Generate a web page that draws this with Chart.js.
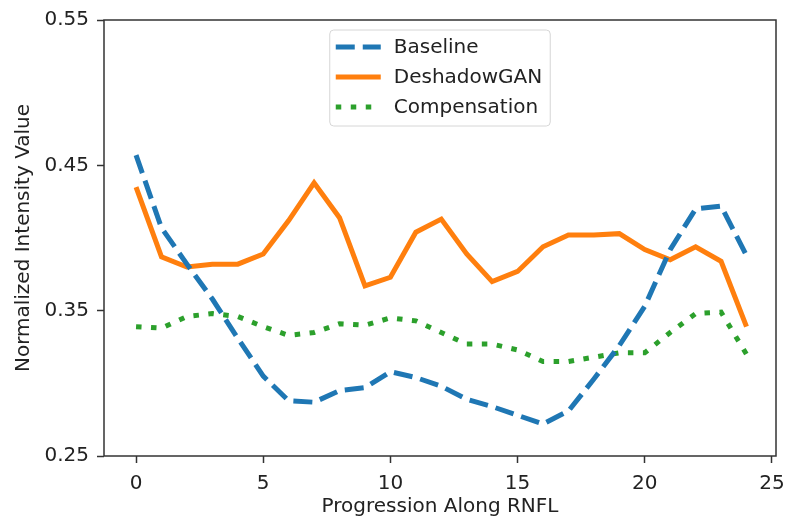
<!DOCTYPE html>
<html>
<head>
<meta charset="utf-8">
<script src="https://cdn.jsdelivr.net/npm/chart.js@4.4.1/dist/chart.umd.min.js"></script>
<style>
  html, body { margin: 0; padding: 0; background: #fff; }
  #wrap { width: 789px; height: 523px; }
</style>
</head>
<body>
<div id="wrap"><canvas id="c" width="789" height="523"></canvas></div>
<script>
// Normalized intensity along the RNFL, three methods
const steps = [0, 1, 2, 3, 4, 5, 6, 7, 8, 9, 10, 11, 12, 13, 14, 15, 16, 17, 18, 19, 20, 21, 22, 23, 24];
const baseline = [0.457, 0.407, 0.382, 0.358, 0.331, 0.305, 0.288, 0.287, 0.295, 0.297, 0.308, 0.304, 0.298,
  0.289, 0.284, 0.278, 0.272, 0.281, 0.303, 0.326, 0.353, 0.392, 0.420, 0.422, 0.388];
const deshadowGAN = [0.435, 0.387, 0.380, 0.382, 0.382, 0.389, 0.412, 0.438, 0.414, 0.367, 0.373, 0.404, 0.413,
  0.389, 0.370, 0.377, 0.394, 0.402, 0.402, 0.403, 0.392, 0.385, 0.394, 0.384, 0.339];
const compensation = [0.339, 0.338, 0.346, 0.348, 0.346, 0.339, 0.333, 0.335, 0.341, 0.340, 0.345, 0.343, 0.335,
  0.327, 0.327, 0.323, 0.315, 0.315, 0.318, 0.321, 0.321, 0.335, 0.348, 0.349, 0.320];
const xTicks = [0, 5, 10, 15, 20, 25];
const yTicks = [0.25, 0.35, 0.45, 0.55];

const FONT = 'DejaVu Sans';
const FS = 20;
const toPoints = vals => vals.map((v, i) => ({ x: steps[i], y: v }));

// matplotlib style full frame around the plot area
const framePlugin = {
  id: 'frame',
  afterDatasetsDraw(chart) {
    const { ctx, chartArea: a } = chart;
    ctx.save();
    ctx.strokeStyle = '#333';
    ctx.lineWidth = 1.5;
    ctx.strokeRect(a.left, a.top, a.right - a.left, a.bottom - a.top);
    ctx.restore();
  }
};

// legend drawn inside the axes, upper center
const insideLegend = {
  id: 'insideLegend',
  afterDraw(chart) {
    const { ctx, chartArea: a } = chart;
    const sets = chart.data.datasets;
    ctx.save();
    ctx.font = FS + 'px ' + FONT;
    const textW = Math.max(...sets.map(d => ctx.measureText(d.label).width));
    const handleW = 45, pad = 6, gap = 13, rowH = 30;
    const w = pad + handleW + gap + textW + 8;
    const h = rowH * sets.length + 6;
    const x0 = (a.left + a.right) / 2 - w / 2;
    const y0 = a.top + 10;
    ctx.beginPath();
    ctx.roundRect(x0, y0, w, h, 4);
    ctx.fillStyle = 'rgba(255,255,255,0.85)';
    ctx.fill();
    ctx.strokeStyle = '#d6d6d6';
    ctx.lineWidth = 1;
    ctx.stroke();
    sets.forEach((d, i) => {
      const cy = y0 + 17 + i * rowH;
      ctx.beginPath();
      ctx.setLineDash(d.borderDash || []);
      ctx.lineWidth = d.borderWidth;
      ctx.strokeStyle = d.borderColor;
      ctx.moveTo(x0 + pad, cy);
      ctx.lineTo(x0 + pad + handleW, cy);
      ctx.stroke();
      ctx.setLineDash([]);
      ctx.fillStyle = '#222';
      ctx.textBaseline = 'middle';
      ctx.fillText(d.label, x0 + pad + handleW + gap, cy + 1);
    });
    ctx.restore();
  }
};

new Chart(document.getElementById('c'), {
  type: 'line',
  data: {
    datasets: [
      { label: 'Baseline', data: toPoints(baseline), borderColor: '#1f77b4', borderWidth: 5, borderDash: [19, 8] },
      { label: 'DeshadowGAN', data: toPoints(deshadowGAN), borderColor: '#ff7f0e', borderWidth: 5 },
      { label: 'Compensation', data: toPoints(compensation), borderColor: '#2ca02c', borderWidth: 5, borderDash: [5.5, 9.5] },
    ]
  },
  options: {
    responsive: false,
    animation: false,
    events: [],
    layout: { padding: { top: 20, right: 13, left: 12, bottom: 0 } },
    elements: { point: { radius: 0 }, line: { tension: 0, fill: false } },
    plugins: { legend: { display: false }, tooltip: { enabled: false } },
    scales: {
      x: {
        type: 'linear', min: -1.26, max: 25.16,
        afterBuildTicks: s => { s.ticks = xTicks.map(v => ({ value: v })); },
        afterFit: s => { s.height = 67; s.paddingLeft = 0; s.paddingRight = 0; },
        grid: { drawOnChartArea: false, drawTicks: true, tickLength: 7, tickColor: '#333', tickWidth: 1.5 },
        border: { display: false },
        ticks: { color: '#222', font: { family: FONT, size: FS }, padding: 9, maxRotation: 0 },
        title: { display: true, text: 'Progression Along RNFL', color: '#222', font: { family: FONT, size: FS }, padding: { top: 0, bottom: 4 } }
      },
      y: {
        type: 'linear', min: 0.25, max: 0.55,
        afterBuildTicks: s => { s.ticks = yTicks.map(v => ({ value: v })); },
        afterFit: s => { s.width = 92; s.paddingTop = 0; s.paddingBottom = 0; },
        grid: { drawOnChartArea: false, drawTicks: true, tickLength: 7, tickColor: '#333', tickWidth: 1.5 },
        border: { display: false },
        ticks: { color: '#222', font: { family: FONT, size: FS }, padding: 8, callback: v => v.toFixed(2) },
        title: { display: true, text: 'Normalized Intensity Value', color: '#222', font: { family: FONT, size: FS }, padding: { top: 0, bottom: 4 } }
      }
    }
  },
  plugins: [framePlugin, insideLegend]
});
</script>
</body>
</html>
